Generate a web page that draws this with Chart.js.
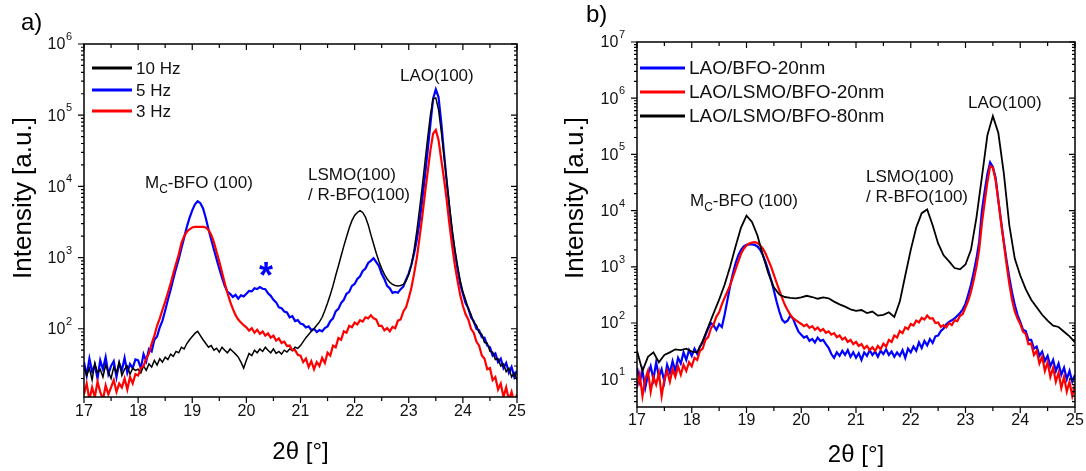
<!DOCTYPE html>
<html>
<head>
<meta charset="utf-8">
<script src="https://cdn.jsdelivr.net/npm/chart.js@4"></script>
<style>
  body { margin: 0; background: #fff; }
  .panel { position: absolute; top: 0; width: 543px; height: 471px; }
</style>
</head>
<body>
<div class="panel" style="left:0"><canvas id="chartA" width="543" height="471"></canvas></div>
<div class="panel" style="left:543px"><canvas id="chartB" width="543" height="471"></canvas></div>
<script>
const FONT = '"Liberation Sans", Arial, sans-serif';

// 2theta sampling: 17..25 deg, 0.05 deg step (scans), 0.1 deg step for the 80 nm film
const twoTheta = Array.from({ length: 161 }, (_, i) => +(17 + i * 0.05).toFixed(2));
const twoThetaCoarse = Array.from({ length: 81 }, (_, i) => +(17 + i * 0.1).toFixed(1));

// panel a) - BFO grown at different laser repetition rates
const hz10 = [
  30, 22, 28, 19, 33, 24, 27, 21, 31, 25, 20, 29, 24, 34, 22, 27, 30, 23, 28, 26,
  27, 24, 30, 26, 32, 29, 36, 31, 38, 34, 40, 37, 44, 41, 48, 46, 55, 52, 62, 70,
  78, 86, 92, 80, 70, 62, 55, 58, 50, 53, 47, 55, 50, 46, 52, 48, 44, 40, 34, 28,
  36, 45, 42, 50, 46, 52, 48, 55, 50, 46, 52, 45, 48, 44, 50, 47, 52, 49, 55, 53,
  58, 66, 75, 83, 92, 100, 112, 125, 145, 180, 230, 300, 400, 560, 760, 1050, 1450, 1950, 2600, 3300,
  3900, 4300, 4550, 4300, 3700, 2900, 2100, 1550, 1150, 880, 700, 580, 500, 450, 420, 405, 400, 405, 420, 470,
  580, 800, 1300, 2400, 4800, 10000, 22000, 48000, 100000, 170000, 175000, 120000, 60000, 27000, 12500, 5500, 2600, 1350, 780, 480,
  330, 255, 190, 160, 122, 112, 88, 84, 64, 63, 48, 47, 37, 38, 30, 32, 25, 28, 21, 24, 19
];
const hz5 = [
  34, 22, 38, 25, 31, 20, 36, 27, 40, 23, 30, 35, 21, 33, 26, 39, 24, 32, 28, 37,
  36, 28, 44, 35, 52, 48, 70, 78, 105, 130, 180, 255, 350, 500, 700, 950, 1350, 1900, 2700, 3600,
  4600, 5600, 6200, 5800, 4900, 3600, 2500, 1800, 1300, 950, 700, 520, 400, 330, 310, 280, 300, 265, 295, 285,
  310, 340, 335, 370, 360, 385, 365, 360, 315, 290, 255, 235, 200, 195, 175, 170, 145, 150, 128, 132,
  118, 115, 104, 108, 96, 100, 90, 96, 92, 102, 108, 128, 140, 175, 190, 230, 255, 310, 330, 400,
  425, 500, 545, 650, 700, 840, 900, 980, 860, 760, 590, 500, 400, 370, 320, 330, 320, 360, 390, 490,
  600, 800, 1150, 1800, 3200, 6500, 14000, 32000, 75000, 170000, 230000, 180000, 80000, 30000, 12000, 5000, 2200, 1200, 700, 430,
  310, 230, 195, 145, 128, 100, 95, 76, 75, 58, 55, 42, 45, 34, 38, 28, 33, 24, 29, 21, 26
];
const hz3 = [
  12, 17, 10, 15, 11, 18, 13, 10, 16, 12, 15, 19, 13, 17, 15, 20, 14, 21, 17, 23,
  22, 28, 30, 38, 45, 62, 80, 110, 140, 185, 240, 320, 430, 600, 820, 1100, 1600, 2000, 2300, 2500,
  2650, 2700, 2700, 2700, 2700, 2650, 2450, 2100, 1650, 1200, 880, 620, 440, 320, 240, 190, 155, 135, 122, 112,
  105, 94, 102, 88, 97, 85, 92, 80, 86, 75, 80, 68, 73, 63, 66, 57, 58, 50, 50, 43,
  42, 34, 38, 29, 35, 27, 34, 30, 39, 33, 46, 42, 58, 55, 74, 70, 92, 88, 110, 105,
  122, 115, 132, 126, 145, 140, 155, 140, 135, 110, 110, 95, 102, 92, 106, 102, 130, 135, 175, 200,
  270, 380, 600, 1000, 1900, 3800, 8000, 16000, 32000, 55000, 62000, 45000, 24000, 13000, 6500, 3000, 1500, 800, 480, 300,
  210, 160, 135, 100, 88, 66, 58, 42, 38, 27, 28, 19, 21, 14, 17, 11, 15, 10, 13, 9, 12
];

// panel b) - films on bare LAO and on LSMO buffer
const bfo20 = [
  16, 9, 14, 7, 12, 17, 10, 20, 11, 15, 9, 18, 13, 21, 14, 24, 19, 30, 22, 33,
  26, 35, 28, 38, 45, 60, 80, 100, 90, 75, 95, 85, 140, 250, 450, 750, 1150, 1600, 2000, 2300,
  2450, 2500, 2500, 2450, 2300, 2000, 1600, 1200, 850, 580, 380, 240, 160, 115, 102, 110, 135, 120, 90, 70,
  62, 55, 58, 48, 52, 45, 55, 48, 50, 42, 36, 28, 24, 30, 26, 32, 27, 33, 25, 30,
  24, 29, 22, 30, 26, 33, 27, 31, 25, 32, 28, 34, 27, 31, 25, 30, 26, 33, 24, 35,
  30, 38, 32, 45, 36, 48, 40, 52, 44, 58, 60, 72, 80, 95, 105, 112, 120, 135, 150, 175,
  220, 320, 480, 800, 1400, 2800, 10000, 22000, 45000, 72000, 60000, 38000, 15000, 6500, 2800, 1300, 650, 350, 210, 140,
  105, 76, 72, 50, 50, 35, 38, 26, 31, 21, 26, 17, 22, 14, 19, 12, 16, 10, 14, 9, 12
];
const lsmoBfo20 = [
  7, 12, 5, 10, 14, 6, 11, 8, 13, 5, 10, 14, 9, 15, 11, 17, 12, 18, 14, 20,
  17, 24, 22, 32, 35, 50, 56, 80, 95, 130, 155, 215, 280, 360, 470, 650, 900, 1250, 1700, 2100,
  2400, 2600, 2700, 2750, 2650, 2400, 2100, 1700, 1300, 1000, 720, 520, 380, 280, 210, 170, 140, 122, 112, 104,
  96, 88, 94, 82, 88, 76, 83, 72, 78, 67, 71, 62, 66, 56, 60, 51, 55, 46, 50, 42,
  46, 39, 42, 35, 39, 33, 37, 32, 39, 34, 43, 38, 50, 46, 60, 55, 72, 66, 84, 78,
  96, 90, 110, 102, 124, 115, 136, 120, 122, 100, 102, 85, 92, 84, 100, 92, 112, 108, 134, 145,
  190, 250, 360, 580, 1000, 2000, 6000, 14000, 32000, 62000, 58000, 35000, 15000, 6000, 2600, 1100, 500, 260, 160, 120,
  96, 70, 64, 42, 43, 27, 32, 19, 25, 14, 20, 11, 16, 9, 13, 7, 11, 6, 9, 5, 8
];
const lsmoBfo80 = [
  32, 14, 25, 30, 20, 27, 30, 34, 33, 35,
  31, 30, 48, 85, 150, 260, 480, 1000, 2300, 5000,
  8100, 6300, 3600, 1600, 760, 430, 320, 290, 280, 275,
  285, 305, 290, 270, 285, 275, 240, 215, 195, 175,
  165, 170, 150, 160, 135, 140, 155, 128, 240, 700,
  2000, 5000, 9000, 10500, 5500, 2600, 1600, 1250, 950, 900,
  1100, 2000, 7500, 40000, 220000, 480000, 240000, 46000, 5500, 1400,
  700, 400, 260, 190, 140, 110, 90, 85, 70, 58, 45
];

const BLACK = '#000000', BLUE = '#0000ff', RED = '#ff0000';

function toPoints(xs, ys) {
  return xs.map((x, i) => ({ x: x, y: ys[i] }));
}

// draws "10" with a raised exponent, right edge at xRight
function powerLabel(ctx, exp, xRight, y) {
  ctx.font = '11px ' + FONT;
  const supW = ctx.measureText(String(exp)).width;
  ctx.textAlign = 'left';
  ctx.textBaseline = 'middle';
  ctx.fillText(String(exp), xRight - supW, y - 7);
  ctx.font = '16px ' + FONT;
  ctx.textAlign = 'right';
  ctx.fillText('10', xRight - supW - 0.5, y + 1);
}

// "M_C-BFO (100)" with a subscript C
function mcLabel(ctx, x, y, size) {
  ctx.textAlign = 'left';
  ctx.textBaseline = 'alphabetic';
  ctx.font = size + 'px ' + FONT;
  ctx.fillText('M', x, y);
  let cx = x + ctx.measureText('M').width;
  ctx.font = Math.round(size * 0.7) + 'px ' + FONT;
  ctx.fillText('C', cx, y + 5);
  cx += ctx.measureText('C').width;
  ctx.font = size + 'px ' + FONT;
  ctx.fillText('-BFO (100)', cx, y);
}

function framePlugin(p) {
  return {
    id: 'frame',
    afterDraw(chart) {
      const { ctx, chartArea: a } = chart;
      const xs = chart.scales.x, ys = chart.scales.y;
      ctx.save();
      ctx.strokeStyle = '#000';
      ctx.fillStyle = '#111';

      // box
      ctx.lineWidth = 1.5;
      ctx.strokeRect(a.left, a.top, a.right - a.left, a.bottom - a.top);

      // x ticks: outward at the bottom, inward at the top
      ctx.lineWidth = 1.2;
      ctx.beginPath();
      for (let v = 17; v <= 25.001; v += 0.5) {
        const px = xs.getPixelForValue(v);
        const len = Math.abs(v - Math.round(v)) < 0.01 ? 6 : 4;
        ctx.moveTo(px, a.bottom); ctx.lineTo(px, a.bottom + len);
        ctx.moveTo(px, a.top); ctx.lineTo(px, a.top + len);
      }
      // y ticks on the log scale: outward left, inward right
      for (let e = 0; e <= 7; e++) {
        for (let m = 1; m <= 9; m++) {
          const v = m * Math.pow(10, e);
          if (v < ys.min || v > ys.max * 1.0001) continue;
          const py = ys.getPixelForValue(v);
          const len = m === 1 ? 6 : 3;
          ctx.moveTo(a.left - len, py); ctx.lineTo(a.left, py);
          ctx.moveTo(a.right, py); ctx.lineTo(a.right - len, py);
        }
      }
      ctx.stroke();

      // tick labels
      ctx.font = '16px ' + FONT;
      ctx.textAlign = 'center';
      ctx.textBaseline = 'top';
      for (let v = 17; v <= 25; v++) {
        ctx.fillText(String(v), xs.getPixelForValue(v), a.bottom + p.xLabelGap);
      }
      for (const e of p.decades) {
        powerLabel(ctx, e, a.left - 12, ys.getPixelForValue(Math.pow(10, e)));
      }

      // axis titles
      ctx.fillStyle = '#000';
      ctx.font = '24px ' + FONT;
      ctx.textAlign = 'center';
      ctx.textBaseline = 'middle';
      ctx.fillText('2\u03b8 [\u00b0]', (a.left + a.right) / 2, p.xTitleY);
      ctx.save();
      ctx.translate(p.yTitleX, p.yTitleY);
      ctx.rotate(-Math.PI / 2);
      ctx.font = '26px ' + FONT;
      ctx.fillText('Intensity [a.u.]', 0, 0);
      ctx.restore();

      // panel letter
      ctx.font = '24px ' + FONT;
      ctx.textAlign = 'left';
      ctx.textBaseline = 'alphabetic';
      ctx.fillText(p.letter, p.letterX, p.letterY);

      // legend
      ctx.font = p.legendFont + 'px ' + FONT;
      ctx.textBaseline = 'middle';
      p.legend.forEach((item, i) => {
        const y = p.legendY[i];
        ctx.strokeStyle = item.color;
        ctx.lineWidth = 3;
        ctx.beginPath();
        ctx.moveTo(p.legendX0, y); ctx.lineTo(p.legendX1, y);
        ctx.stroke();
        ctx.fillStyle = '#111';
        ctx.fillText(item.label, p.legendX1 + 4, y + 1);
      });

      // peak labels
      ctx.fillStyle = '#111';
      mcLabel(ctx, p.mc[0], p.mc[1], p.peakFont);
      ctx.font = p.peakFont + 'px ' + FONT;
      ctx.textAlign = 'left';
      ctx.textBaseline = 'alphabetic';
      ctx.fillText('LSMO(100)', p.lsmo[0], p.lsmo[1]);
      ctx.fillText('/ R-BFO(100)', p.lsmo[0], p.lsmo[1] + 20);
      ctx.fillText('LAO(100)', p.lao[0], p.lao[1]);

      if (p.star) {
        ctx.fillStyle = BLUE;
        ctx.font = 'bold 36px ' + FONT;
        ctx.textAlign = 'center';
        ctx.textBaseline = 'middle';
        ctx.fillText('*', p.star[0], p.star[1] + 8);
      }
      ctx.restore();
    }
  };
}

function makeChart(id, datasets, yMin, yMax, padding, p) {
  return new Chart(document.getElementById(id), {
    type: 'line',
    data: { datasets: datasets },
    options: {
      responsive: false,
      animation: false,
      devicePixelRatio: 1,
      layout: { padding: padding },
      plugins: { legend: { display: false }, tooltip: { enabled: false } },
      elements: { point: { radius: 0 }, line: { tension: 0 } },
      scales: {
        x: { type: 'linear', min: 17, max: 25, display: false },
        y: { type: 'logarithmic', min: yMin, max: yMax, display: false }
      }
    },
    plugins: [framePlugin(p)]
  });
}

// a) lowest "order" is painted last, i.e. on top
makeChart('chartA', [
  { label: '10 Hz', data: toPoints(twoTheta, hz10), borderColor: BLACK, borderWidth: 1.5, order: 1 },
  { label: '5 Hz', data: toPoints(twoTheta, hz5), borderColor: BLUE, borderWidth: 2.2, order: 2 },
  { label: '3 Hz', data: toPoints(twoTheta, hz3), borderColor: RED, borderWidth: 2.2, order: 0 }
], 11, 1e6, { left: 84, right: 26, top: 44, bottom: 74 }, {
  decades: [2, 3, 4, 5, 6],
  xLabelGap: 7, xTitleY: 452, yTitleX: 24, yTitleY: 198,
  letter: 'a)', letterX: 21, letterY: 30,
  legend: [{ label: '10 Hz', color: BLACK }, { label: '5 Hz', color: BLUE }, { label: '3 Hz', color: RED }],
  legendX0: 92, legendX1: 132, legendY: [68, 90, 111], legendFont: 17,
  peakFont: 17, mc: [145, 188], lsmo: [308, 180], lao: [400, 81],
  star: [266, 270]
});

// b) black curve on top, then red, blue underneath
makeChart('chartB', [
  { label: 'LAO/BFO-20nm', data: toPoints(twoTheta, bfo20), borderColor: BLUE, borderWidth: 2.2, order: 2 },
  { label: 'LAO/LSMO/BFO-20nm', data: toPoints(twoTheta, lsmoBfo20), borderColor: RED, borderWidth: 2.2, order: 1 },
  { label: 'LAO/LSMO/BFO-80nm', data: toPoints(twoThetaCoarse, lsmoBfo80), borderColor: BLACK, borderWidth: 1.8, order: 0 }
], 3.2, 1e7, { left: 94, right: 11, top: 42, bottom: 64 }, {
  decades: [1, 2, 3, 4, 5, 6, 7],
  xLabelGap: 6, xTitleY: 455, yTitleX: 33, yTitleY: 198,
  letter: 'b)', letterX: 43, letterY: 22,
  legend: [{ label: 'LAO/BFO-20nm', color: BLUE }, { label: 'LAO/LSMO/BFO-20nm', color: RED }, { label: 'LAO/LSMO/BFO-80nm', color: BLACK }],
  legendX0: 97, legendX1: 142, legendY: [68, 92, 116], legendFont: 19,
  peakFont: 17, mc: [147, 206], lsmo: [323, 182], lao: [425, 108],
  star: null
});
</script>
</body>
</html>
